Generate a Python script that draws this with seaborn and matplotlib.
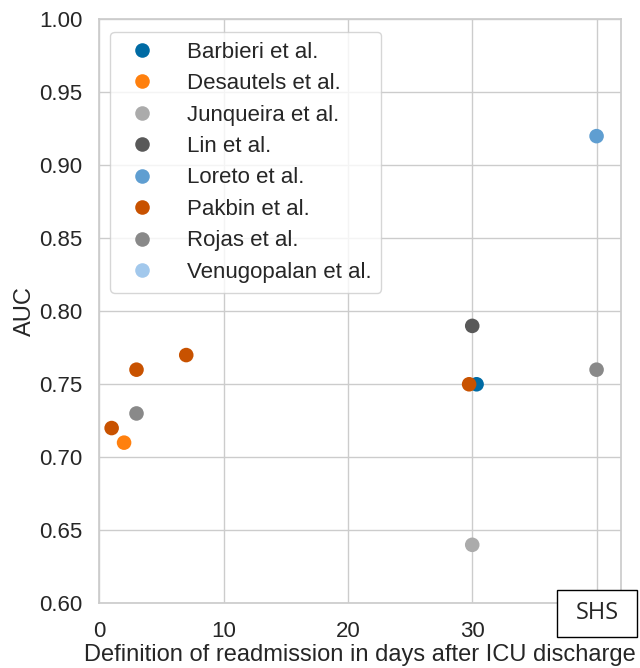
import numpy as np
import pandas as pd
import matplotlib
matplotlib.use("Agg")
import matplotlib.pyplot as plt
from matplotlib.patches import Rectangle
import seaborn as sns

# ─────────────────────────────────────────────
# DATA
# ─────────────────────────────────────────────

studies = ["Barbieri et al.", "Desautels et al.", "Junqueira et al.", "Lin et al.",
           "Loreto et al.", "Pakbin et al.", "Rojas et al.", "Venugopalan et al."]

point_study = ["Barbieri et al.", "Desautels et al.", "Junqueira et al.", "Lin et al.",
               "Loreto et al.", "Pakbin et al.", "Pakbin et al.", "Pakbin et al.",
               "Pakbin et al.", "Rojas et al.", "Rojas et al."]
readmission_days = [30.35, 2, 30, 30, 40, 1, 3, 7, 29.75, 3, 40]
auc = [0.75, 0.71, 0.64, 0.79, 0.92, 0.72, 0.76, 0.77, 0.75, 0.73, 0.76]

x_ticks = [0, 10, 20, 30, 40]
x_tick_labels = ["0", "10", "20", "30", ""]
y_ticks = [0.60, 0.65, 0.70, 0.75, 0.80, 0.85, 0.90, 0.95, 1.00]

df = pd.DataFrame({"study": point_study, "days": readmission_days, "auc": auc})

# tableau colorblind 10
cb10 = ["#006BA4", "#FF800E", "#ABABAB", "#595959", "#5F9ED1",
        "#C85200", "#898989", "#A2C8EC"]

# ─────────────────────────────────────────────
# PLOT
# ─────────────────────────────────────────────

sns.set_theme(style="whitegrid")
plt.rcParams["font.family"] = ["Liberation Sans", "DejaVu Sans"]

fig, ax = plt.subplots(figsize=(6.4, 6.68), dpi=100)
fig.subplots_adjust(left=0.155, right=0.971, top=0.971, bottom=0.097)

sns.scatterplot(
    data=df,
    x="days",
    y="auc",
    hue="study",
    hue_order=studies,
    palette=dict(zip(studies, cb10)),
    s=110,
    linewidth=0,
    ax=ax
)

ax.set_xlim(0, 42)
ax.set_ylim(0.6, 1.0)
ax.set_xticks(x_ticks)
ax.set_xticklabels(x_tick_labels)
ax.set_yticks(y_ticks)
ax.set_yticklabels([f"{v:.2f}" for v in y_ticks])
ax.tick_params(axis="x", labelsize=16, pad=7)
ax.tick_params(axis="y", labelsize=16, pad=6)

ax.set_xlabel("Definition of readmission in days after ICU discharge", fontsize=17, labelpad=1)
ax.set_ylabel("AUC", fontsize=17, labelpad=2)

for spine in ax.spines.values():
    spine.set_color("#cccccc")

# SHS box over the 40-day tick
fig.add_artist(Rectangle((0.870, 0.0464), 0.125, 0.0704, transform=fig.transFigure,
                         facecolor="white", edgecolor="black", linewidth=1, zorder=10))
fig.text(0.933, 0.082, "SHS", ha="center", va="center", fontsize=17,
         family="Open Sans", zorder=11)

leg = ax.legend(loc="upper left", bbox_to_anchor=(0.021, 0.979), fontsize=16,
                markerscale=1.0, handletextpad=1.0, borderpad=0.45,
                labelspacing=0.47, borderaxespad=0)
leg.get_frame().set_edgecolor("#cccccc")

plt.savefig("out.png", dpi=100)
